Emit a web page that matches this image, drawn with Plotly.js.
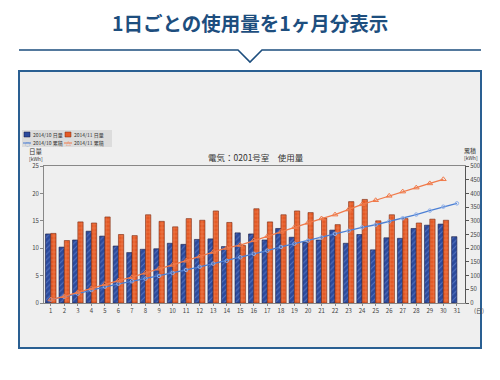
<!DOCTYPE html>
<html><head><meta charset="utf-8">
<script src="https://cdn.plot.ly/plotly-3.0.1.min.js"></script>
<style>html,body{margin:0;padding:0;background:#fff}#c{width:500px;height:380px}</style>
</head><body><div id="c"></div>
<script>
// ---- data ----
const days = [1,2,3,4,5,6,7,8,9,10,11,12,13,14,15,16,17,18,19,20,21,22,23,24,25,26,27,28,29,30,31];
const dayLabels = days.map(String);
const octDaily = [12.6,10.2,11.5,13.1,12.2,10.4,9.2,9.8,9.9,10.9,10.7,11.6,11.7,10.3,12.8,12.6,11.5,13.6,12.0,11.1,11.5,13.3,10.9,12.5,9.7,11.9,11.8,13.6,14.2,14.4,12.1];
const novDays = [1,2,3,4,5,6,7,8,9,10,11,12,13,14,15,16,17,18,19,20,21,22,23,24,25,26,27,28,29,30];
const novDaily = [12.7,11.4,14.8,14.6,15.7,12.5,12.3,16.1,14.9,13.9,15.4,15.1,16.8,14.7,10.5,17.2,14.8,16.1,16.8,16.5,15.5,14.3,18.5,18.9,15.0,16.1,15.4,14.6,15.3,15.1];
const octCum = [12.6,22.8,34.3,47.4,59.6,70.0,79.2,89.0,98.9,109.8,120.5,132.1,143.8,154.1,166.9,179.5,191.0,204.6,216.6,227.7,239.2,252.5,263.4,275.9,285.6,297.5,309.3,322.9,337.1,351.5,363.6];
const novCum = [12.7,24.1,38.9,53.5,69.2,81.7,94.0,110.1,125.0,138.9,154.3,169.4,186.2,200.9,211.4,228.6,243.4,259.5,276.3,292.8,308.3,322.6,341.1,360.0,375.0,391.1,406.5,421.1,436.4,451.5];
const seriesNames = ["2014/10 日量","2014/11 日量","2014/10 累積","2014/11 累積"];
const yTicks = [0,5,10,15,20,25];
const y2Ticks = [0,50,100,150,200,250,300,350,400,450,500];

// ---- geometry helpers (pixel -> paper) ----
const L=44, R=465, T=166, B=303;
const px = x => (x-L)/(R-L);
const py = y => (B-y)/(B-T);
const F = '"Noto Sans CJK JP", "Noto Sans", sans-serif';
const navy = '#1d4e7e';

const traces = [
  {type:'bar', x:days, y:octDaily, name:seriesNames[0], offsetgroup:'a',
   marker:{color:'#2b4a9c', line:{color:'#1a1a40', width:0.6},
     pattern:{shape:'/', fillmode:'overlay', fgcolor:'#7d9be0', size:4, solidity:0.25}}},
  {type:'bar', x:novDays, y:novDaily, name:seriesNames[1], offsetgroup:'b',
   marker:{color:'#e55a26', line:{color:'#7a2a10', width:0.6},
     pattern:{shape:'+', fillmode:'overlay', fgcolor:'#f6b08a', size:4, solidity:0.25}}},
  {type:'scatter', mode:'lines+markers', x:days, y:octCum, yaxis:'y2', name:seriesNames[2],
   line:{color:'#4b7fd4', width:1.3},
   marker:{symbol:'circle-open', size:3.5, color:'#8fb0ea', line:{width:1}}},
  {type:'scatter', mode:'lines+markers', x:novDays, y:novCum, yaxis:'y2', name:seriesNames[3],
   line:{color:'#f07a4a', width:1.3},
   marker:{symbol:'triangle-up-open', size:5, color:'#f07a4a', line:{width:1}}}
];

const shapes = [
  {type:'rect', xref:'paper', yref:'paper', x0:px(19), x1:px(481), y0:py(348), y1:py(71),
   fillcolor:'#efefef', line:{color:'#2a5f92', width:2}, layer:'below'},
  {type:'path', xref:'paper', yref:'paper',
   path:`M ${px(19)} ${py(50)} L ${px(238)} ${py(50)} L ${px(250)} ${py(62)} L ${px(262)} ${py(50)} L ${px(481)} ${py(50)}`,
   line:{color:navy, width:1.6}},
  {type:'rect', xref:'paper', yref:'paper', x0:px(22), x1:px(112), y0:py(147), y1:py(130),
   fillcolor:'#dcdcdc', line:{width:0}, layer:'below'},
  {type:'rect', xref:'paper', yref:'paper', x0:px(24), x1:px(30), y0:py(137), y1:py(132),
   fillcolor:'#2b4a9c', line:{color:'#1a1a40', width:0.5}},
  {type:'rect', xref:'paper', yref:'paper', x0:px(65), x1:px(71), y0:py(137), y1:py(132),
   fillcolor:'#e55a26', line:{color:'#7a2a10', width:0.5}},
  {type:'line', xref:'paper', yref:'paper', x0:px(23), x1:px(31), y0:py(143), y1:py(143),
   line:{color:'#4b7fd4', width:1}},
  {type:'line', xref:'paper', yref:'paper', x0:px(64), x1:px(72), y0:py(143), y1:py(143),
   line:{color:'#f07a4a', width:1}}
];

const ann = (x,y,text,opts={}) => Object.assign({xref:'paper', yref:'paper', x:px(x), y:py(y), text,
  showarrow:false, font:{family:F, size:6, color:'#444'}, xanchor:'left', yanchor:'middle'}, opts);

const annotations = [
  ann(250,22,'<b>1日ごとの使用量を1ヶ月分表示</b>',{xanchor:'center', font:{family:F, size:19.5, color:navy}}),
  ann(256,157,'電気：0201号室　使用量',{xanchor:'center', font:{family:F, size:8.5, color:'#333'}}),
  ann(36,151,'日量',{xanchor:'center', font:{family:F, size:6.5, color:'#333'}}),
  ann(36,158,'[kWh]',{xanchor:'center', font:{family:F, size:5, color:'#333'}}),
  ann(470,150,'累積',{xanchor:'center', font:{family:F, size:6, color:'#333'}}),
  ann(471,157,'[kWh]',{xanchor:'center', font:{family:F, size:5, color:'#333'}}),
  ann(479,310,'(日)',{xanchor:'center', font:{family:F, size:6, color:'#444'}}),
  ann(30.5,134.5,seriesNames[0],{font:{family:F, size:5, color:'#333'}}),
  ann(71.5,134.5,seriesNames[1],{font:{family:F, size:5, color:'#333'}}),
  ann(30.5,143,seriesNames[2],{font:{family:F, size:5, color:'#333'}}),
  ann(71.5,143,seriesNames[3],{font:{family:F, size:5, color:'#333'}}),
  ann(27,143,'○',{xanchor:'center', font:{family:F, size:5, color:'#4b7fd4'}}),
  ann(68,142.5,'△',{xanchor:'center', font:{family:F, size:5, color:'#f07a4a'}})
];

const layout = {
  width:500, height:380,
  margin:{l:L, r:500-R, t:T, b:380-B, pad:0},
  paper_bgcolor:'#ffffff', plot_bgcolor:'#ebebeb',
  showlegend:false,
  barmode:'group', bargap:0.22, bargroupgap:0,
  font:{family:F, size:6, color:'#444'},
  xaxis:{range:[0.5,31.6], tickvals:days, ticktext:dayLabels, showgrid:false, zeroline:false,
    showline:true, linecolor:'#888', linewidth:1, mirror:true,
    ticks:'outside', ticklen:2, tickcolor:'#888', tickfont:{family:F, size:6, color:'#444'}},
  yaxis:{range:[0,25], tickvals:yTicks, showgrid:false, zeroline:false,
    showline:true, linecolor:'#888', linewidth:1,
    ticks:'outside', ticklen:3, tickcolor:'#888', tickfont:{family:F, size:6, color:'#444'}},
  yaxis2:{range:[0,500], tickvals:y2Ticks, overlaying:'y', side:'right', showgrid:false, zeroline:false,
    showline:true, linecolor:'#555', linewidth:1,
    ticks:'outside', ticklen:3, tickcolor:'#555', tickfont:{family:F, size:6, color:'#444'}},
  shapes, annotations
};

Plotly.newPlot('c', traces, layout, {displayModeBar:false, staticPlot:true});
</script>
</body></html>
